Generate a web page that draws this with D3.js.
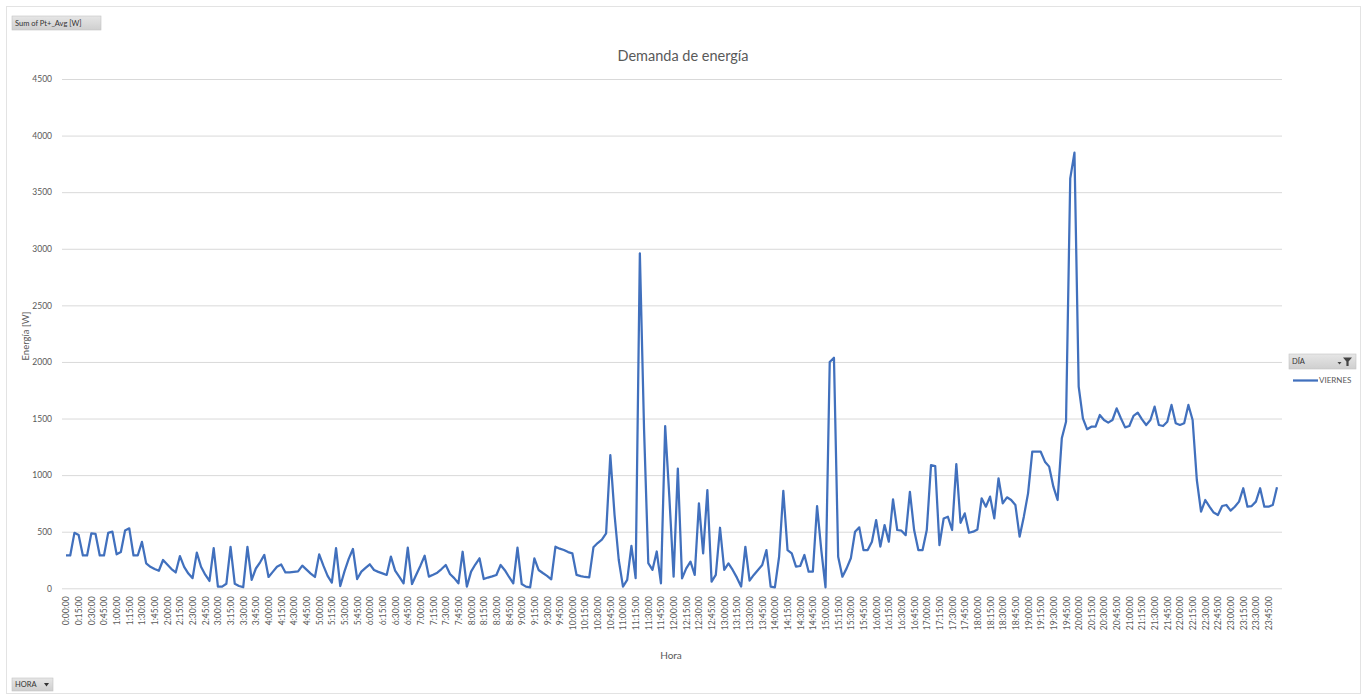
<!DOCTYPE html>
<html>
<head>
<meta charset="utf-8">
<script src="https://cdn.jsdelivr.net/npm/d3@7/dist/d3.min.js"></script>
<style>
  html, body { margin: 0; padding: 0; background: #fff; }
  svg { display: block; font-family: Lato, "Open Sans", "Liberation Sans", sans-serif; }
</style>
</head>
<body>
<svg id="chart" width="1368" height="695"></svg>
<script>
// Five-minute slots across one day (H:MM:SS), 288 categories
const slots = d3.range(0, 24 * 60, 5).map(m =>
  `${Math.floor(m / 60)}:${String(m % 60).padStart(2, "0")}:00`);

// Every third slot carries a tick label (quarter hours)
const tickLabels = slots.filter((_, i) => i % 3 === 0);

const seriesName = "VIERNES";

// Average active power per slot [W]
const viernes = [
  290, 290, 490, 470, 290, 290, 485, 480, 290, 290, 490, 500,
  300, 320, 510, 530, 290, 290, 410, 220, 190, 170, 155, 250,
  210, 170, 140, 285, 190, 130, 90, 315, 190, 120, 65, 355,
  15, 15, 40, 365, 40, 20, 10, 365, 75, 175, 230, 295,
  100, 145, 190, 210, 140, 140, 145, 150, 200, 165, 130, 100,
  300, 200, 110, 50, 355, 20, 150, 260, 347, 82, 147, 180,
  212, 162, 145, 132, 118, 280, 156, 100, 44, 359, 38, 120,
  200, 288, 103, 120, 138, 170, 206, 126, 90, 44, 323, 15,
  147, 210, 265, 82, 95, 105, 118, 206, 160, 100, 44, 359,
  38, 15, 9, 265, 162, 135, 110, 79, 368, 350, 338, 320,
  309, 118, 108, 100, 97, 362, 400, 430, 485, 1176, 650, 250,
  15, 74, 375, 89, 2960, 1400, 222, 163, 325, 44, 1433, 800,
  103, 1058, 88, 176, 235, 118, 750, 309, 867, 59, 118, 535,
  162, 220, 162, 94, 15, 367, 68, 118, 162, 206, 338, 15,
  9, 279, 861, 338, 309, 191, 197, 294, 147, 147, 726, 338,
  9, 2000, 2037, 279, 103, 176, 265, 500, 538, 338, 338, 412,
  603, 368, 559, 412, 785, 515, 509, 470, 853, 515, 338, 338,
  515, 1088, 1079, 382, 617, 632, 515, 1097, 579, 662, 491, 500,
  520, 795, 721, 810, 618, 972, 751, 804, 780, 736, 456, 633,
  839, 1207, 1207, 1207, 1119, 1075, 898, 780, 1325, 1472, 3622, 3849,
  1782, 1502, 1405, 1428, 1428, 1531, 1487, 1464, 1487, 1590, 1502, 1422,
  1434, 1523, 1552, 1493, 1443, 1487, 1605, 1443, 1434, 1472, 1620, 1458,
  1443, 1458, 1620, 1487, 957, 677, 780, 721, 669, 648, 727, 736,
  686, 721, 766, 884, 721, 727, 766, 884, 721, 721, 736, 892
];

const yTicks = [0, 500, 1000, 1500, 2000, 2500, 3000, 3500, 4000, 4500];

const svg = d3.select("#chart");
const lineColor = "#4170bd";
const textColor = "#595959";

// Frame
svg.append("rect")
  .attr("x", 6.5).attr("y", 6.5).attr("width", 1354).attr("height", 687)
  .attr("fill", "#fff").attr("stroke", "#e3e3e3");

const plot = { left: 62, right: 1282, top: 79, bottom: 588.3 };

const x = d3.scalePoint().domain(slots).range([66, 1277]);
const y = d3.scaleLinear().domain([0, 4500]).range([plot.bottom, plot.top]);

// Horizontal gridlines + value axis labels
const yAxis = d3.axisLeft(y).tickValues(yTicks).tickFormat(d3.format("d"))
  .tickSize(-(plot.right - plot.left)).tickPadding(10);
const gy = svg.append("g").attr("transform", `translate(${plot.left},0)`).call(yAxis);
gy.select(".domain").remove();
gy.selectAll(".tick line").attr("stroke", "#d9d9d9").attr("stroke-width", 1);
gy.selectAll(".tick text").attr("fill", textColor).attr("font-size", 8.5)
  .attr("font-family", "Lato, 'Open Sans', sans-serif");

// Category axis with rotated time labels
const xAxis = d3.axisBottom(x).tickValues(tickLabels).tickSize(0).tickPadding(0);
const gx = svg.append("g").attr("transform", `translate(0,${plot.bottom})`).call(xAxis);
gx.select(".domain").remove();
gx.selectAll(".tick text")
  .attr("fill", textColor)
  .attr("font-size", 8.5)
  .attr("font-family", "Lato, 'Open Sans', sans-serif")
  .attr("text-anchor", "end")
  .attr("transform", "translate(0,8) rotate(-90)")
  .attr("x", 0).attr("y", 0).attr("dy", "0.35em");

// Series line
const line = d3.line()
  .x((d, i) => x(slots[i]))
  .y(d => y(d));

svg.append("path")
  .datum(viernes)
  .attr("fill", "none")
  .attr("stroke", lineColor)
  .attr("stroke-width", 2.25)
  .attr("stroke-linejoin", "round")
  .attr("d", line);

// Title
svg.append("text")
  .attr("x", 683).attr("y", 61)
  .attr("text-anchor", "middle")
  .attr("font-size", 14.5)
  .attr("fill", textColor)
  .text("Demanda de energía");

// Axis titles
svg.append("text")
  .attr("transform", "translate(29,336) rotate(-90)")
  .attr("text-anchor", "middle")
  .attr("font-size", 9.5)
  .attr("fill", textColor)
  .text("Energía [W]");

svg.append("text")
  .attr("x", 671).attr("y", 659)
  .attr("text-anchor", "middle")
  .attr("font-size", 10)
  .attr("fill", textColor)
  .text("Hora");

// Field buttons
const grad = svg.append("defs").append("linearGradient")
  .attr("id", "btn").attr("x1", 0).attr("y1", 0).attr("x2", 0).attr("y2", 1);
grad.append("stop").attr("offset", "0%").attr("stop-color", "#e6e6e6");
grad.append("stop").attr("offset", "100%").attr("stop-color", "#cfcfcf");

function button(x0, y0, w, h, label) {
  const g = svg.append("g");
  g.append("rect").attr("x", x0).attr("y", y0).attr("width", w).attr("height", h)
    .attr("fill", "url(#btn)").attr("stroke", "#c4c4c4").attr("stroke-width", 0.6);
  g.append("text").attr("x", x0 + 3).attr("y", y0 + h / 2).attr("dy", "0.35em")
    .attr("font-size", 7.5).attr("fill", "#333").text(label);
  return g;
}

button(12, 16, 89, 14, "Sum of Pt+_Avg  [W]");

const hora = button(12, 678, 41, 13, "HORA");
hora.append("path").attr("d", "M44,683 L49,683 L46.5,686.5 Z").attr("fill", "#333");

const dia = button(1289, 354, 67, 15, "DÍA");
// filter glyph
dia.append("path").attr("d", "M1343,357.5 L1352,357.5 L1348.6,361.5 L1348.6,366 L1346.4,366 L1346.4,361.5 Z")
  .attr("fill", "#444");
dia.append("path").attr("d", "M1337.5,362 L1341.5,362 L1339.5,364.5 Z").attr("fill", "#444");

// Legend entry
svg.append("line")
  .attr("x1", 1293).attr("x2", 1318).attr("y1", 380.5).attr("y2", 380.5)
  .attr("stroke", lineColor).attr("stroke-width", 2.25);
svg.append("text")
  .attr("x", 1319).attr("y", 380.5).attr("dy", "0.35em")
  .attr("font-size", 8).attr("fill", textColor)
  .text(seriesName);
</script>
</body>
</html>
